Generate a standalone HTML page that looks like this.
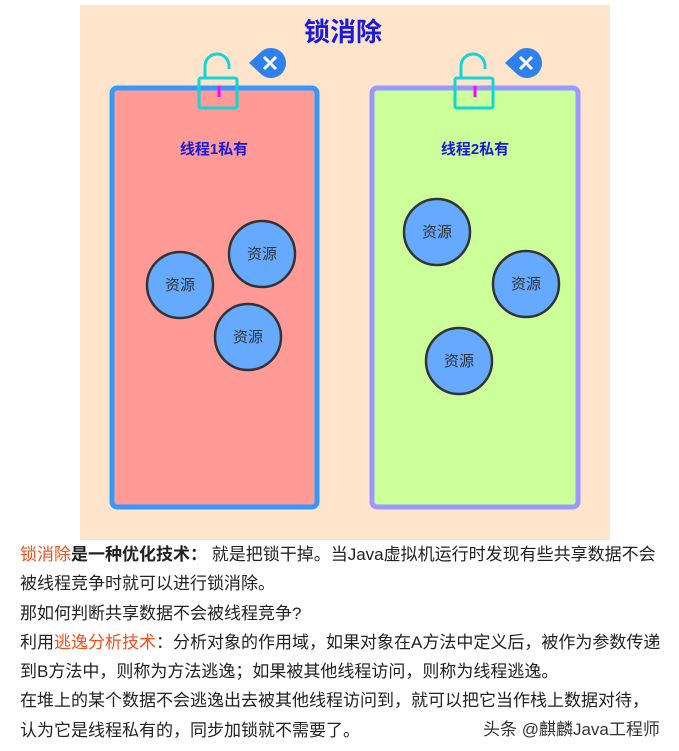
<!DOCTYPE html>
<html><head><meta charset="utf-8"><style>
body{margin:0;width:679px;height:751px;background:#fff;overflow:hidden;position:relative;font-family:"Liberation Sans","Noto Sans CJK SC",sans-serif}
.txt{position:absolute;left:20px;top:540px;font-size:17px;line-height:29.3px;color:#222;width:670px;white-space:nowrap}
.r{color:#f4511e}
</style></head><body>
<svg width="679" height="545" style="position:absolute;left:0;top:0" font-family="Liberation Sans, Noto Sans CJK SC, sans-serif">
<rect x="80" y="5" width="530" height="535" fill="#fee4cb"/>
<text x="343" y="41" text-anchor="middle" font-size="26" font-weight="bold" fill="#1a1adf">锁消除</text>
<rect x="112" y="88" width="205" height="419" rx="5" fill="#ff9a96" stroke="#3399ff" stroke-width="5"/>
<rect x="372" y="88" width="206" height="419" rx="5" fill="#ccff99" stroke="#9999ff" stroke-width="5"/>
<text x="214" y="154" text-anchor="middle" font-size="15" font-weight="bold" fill="#1a1adf">线程1私有</text>
<text x="475" y="154" text-anchor="middle" font-size="15" font-weight="bold" fill="#1a1adf">线程2私有</text>
<g fill="#66aaff" stroke="#333" stroke-width="2.5">
<circle cx="180" cy="285" r="33"/><circle cx="262" cy="254" r="33"/><circle cx="248" cy="337" r="33"/>
<circle cx="437" cy="232" r="33"/><circle cx="526" cy="284" r="33"/><circle cx="459" cy="361" r="33"/>
</g>
<g font-size="15" fill="#333" text-anchor="middle">
<text x="180" y="290">资源</text><text x="262" y="259">资源</text><text x="248" y="342">资源</text>
<text x="437" y="237">资源</text><text x="526" y="289">资源</text><text x="459" y="366">资源</text>
</g>
<g id="lk">
<rect x="199" y="78" width="38" height="30" rx="2" fill="none" stroke="#11d6d6" stroke-width="3"/>
<path d="M205 78 V66 A12 12 0 0 1 229 66 V69" fill="none" stroke="#11d6d6" stroke-width="3"/>
<line x1="219" y1="86" x2="219" y2="97" stroke="#ff00ff" stroke-width="3"/>
<path d="M249 63 L262 51 A15 15 0 1 1 262 75 Z" fill="#2f80ed"/>
<path d="M264 57 L276 69 M276 57 L264 69" stroke="#fff" stroke-width="3"/>
</g>
<use href="#lk" transform="translate(256,0)"/>
</svg>
<div class="txt">
<span class="r">锁消除</span><b>是一种优化技术：</b> 就是把锁干掉。当Java虚拟机运行时发现有些共享数据不会<br>
被线程竞争时就可以进行锁消除。<br>
那如何判断共享数据不会被线程竞争?<br>
利用<span class="r">逃逸分析技术</span>：分析对象的作用域，如果对象在A方法中定义后，被作为参数传递<br>
到B方法中，则称为方法逃逸；如果被其他线程访问，则称为线程逃逸。<br>
在堆上的某个数据不会逃逸出去被其他线程访问到，就可以把它当作栈上数据对待，<br>
认为它是线程私有的，同步加锁就不需要了。
</div>
<div style="position:absolute;left:483px;top:715px;font-size:17px;color:#333">头条 @麒麟Java工程师</div>
</body></html>
